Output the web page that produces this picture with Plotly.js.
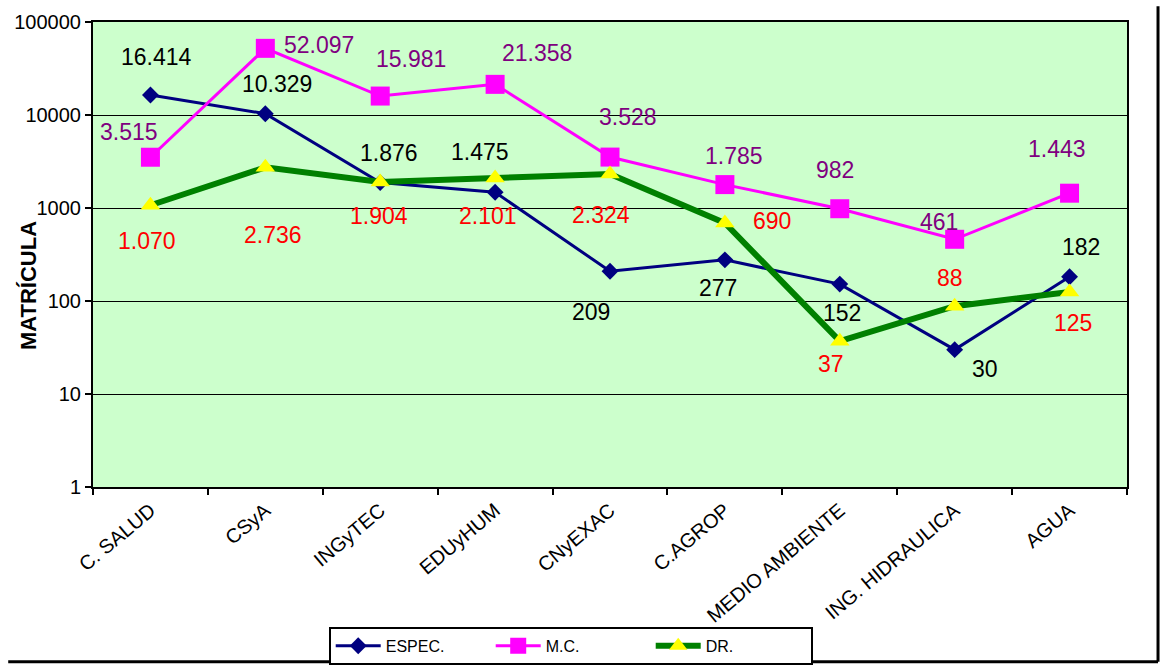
<!DOCTYPE html>
<html><head><meta charset="utf-8">
<script src="https://cdn.plot.ly/plotly-3.0.1.min.js"></script>
<style>html,body{margin:0;padding:0;background:#fff;}#chart{width:1161px;height:666px;}</style>
</head><body><div id="chart"></div>
<script>
const categories = ['C. SALUD','CSyA','INGyTEC','EDUyHUM','CNyEXAC','C.AGROP','MEDIO AMBIENTE','ING. HIDRAULICA','AGUA'];
const espec = [16414,10329,1876,1475,209,277,152,30,182];
const mc = [3515,52097,15981,21358,3528,1785,982,461,1443];
const dr = [1070,2736,1904,2101,2324,690,37,88,125];
const seriesNames = ['ESPEC.','M.C.','DR.'];
const yTickVals = [1,10,100,1000,10000,100000];
const yTickText = ['1','10','100','1000','10000','100000'];
const yTitle = 'MATRÍCULA';

// label offsets in pixels (style only)
const especDx = [6,12,9,-15,-19,-7,2,30,11];
const especDy = [-38,-30,-30,-40,41,28,29,19,-30];
const mcDx = [-21,54,31,42,18,9,-5,-16,-13];
const mcDy = [-25,-3,-37,-31,-40,-29,-39,-17,-44];
const drDx = [-3,8,-1,-7,-9,47,-9,-5,3];
const drDy = [36,68,34,38,41,-2,23,-28,31];

const FONT = 'Arial, "Liberation Sans", sans-serif';
function fmt(n){ return String(n).replace(/\B(?=(\d{3})+(?!\d))/g, '.'); }

const traces = [
  {x: categories, y: espec, name: seriesNames[0], type: 'scatter', mode: 'lines+markers',
   line: {color: '#000080', width: 3}, marker: {symbol: 'diamond', size: 13, color: '#000080'}},
  {x: categories, y: mc, name: seriesNames[1], type: 'scatter', mode: 'lines+markers',
   line: {color: '#FF00FF', width: 3}, marker: {symbol: 'square', size: 19, color: '#FF00FF'}},
  {x: categories, y: dr, name: seriesNames[2], type: 'scatter', mode: 'lines+markers',
   line: {color: '#008000', width: 6}, marker: {symbol: 'triangle-up', size: 17, color: '#FFFF00'}}
];

const annotations = [];
function addLabels(vals, dx, dy, color){
  vals.forEach((v,i)=>{
    annotations.push({x: categories[i], y: Math.log10(v), xref: 'x', yref: 'y', text: fmt(v),
      showarrow: false, xanchor: 'center', yanchor: 'middle', xshift: dx[i], yshift: -dy[i],
      font: {family: FONT, size: 23, color: color}});
  });
}
addLabels(espec, especDx, especDy, '#000000');
addLabels(mc, mcDx, mcDy, '#800080');
addLabels(dr, drDx, drDy, '#FF0000');
annotations.push({xref: 'paper', yref: 'paper', x: -0.063, y: 0.434, text: '<b>' + yTitle + '</b>',
  textangle: -90, showarrow: false, xanchor: 'center', yanchor: 'middle',
  font: {family: FONT, size: 22, color: '#000'}});

const layout = {
  width: 1161, height: 666,
  margin: {l: 93, r: 34, t: 22, b: 179, autoexpand: false},
  paper_bgcolor: '#ffffff', plot_bgcolor: '#CCFFCC',
  font: {family: FONT, color: '#000'},
  showlegend: true,
  legend: {orientation: 'h', x: 0.462, xanchor: 'center', y: -0.3825, yanchor: 'bottom',
    bgcolor: '#fff', bordercolor: '#000', borderwidth: 2, font: {family: FONT, size: 16, color: '#000'},
    entrywidth: 100, entrywidthmode: 'pixels', itemwidth: 45, tracegroupgap: 0},
  xaxis: {type: 'category', range: [-0.5, 8.5], tickson: 'boundaries', ticks: 'outside', ticklen: 6,
    tickwidth: 2, tickcolor: '#000', showline: true, linecolor: '#000', linewidth: 2, mirror: true,
    showgrid: false, tickangle: -40, ticklabelstandoff: 2, automargin: false,
    tickfont: {family: FONT, size: 20, color: '#000'}, fixedrange: true},
  yaxis: {type: 'log', range: [0, 5], tickvals: yTickVals, ticktext: yTickText, ticks: 'outside', ticklen: 6,
    tickwidth: 2, tickcolor: '#000', showline: true, linecolor: '#000', linewidth: 2, mirror: true,
    showgrid: true, gridcolor: '#000', gridwidth: 1, zeroline: false, automargin: false,
    tickfont: {family: FONT, size: 20, color: '#000'}, fixedrange: true},
  annotations: annotations,
  shapes: [
    {type: 'line', xref: 'paper', yref: 'paper', x0: 1.030, x1: 1.030, y0: 1.034, y1: -0.376, line: {color: '#000', width: 3}},
    {type: 'line', xref: 'paper', yref: 'paper', x0: -0.082, x1: 1.030, y0: -0.376, y1: -0.376, line: {color: '#000', width: 3}}
  ]
};
Plotly.newPlot('chart', traces, layout, {displayModeBar: false, staticPlot: true});
</script></body></html>
